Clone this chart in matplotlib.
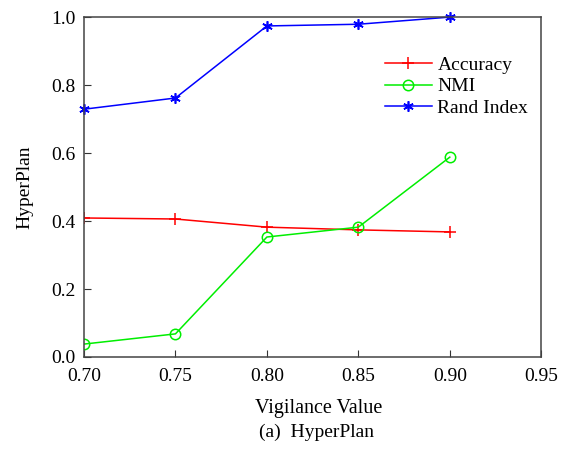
import matplotlib.pyplot as plt

plt.rcParams['font.family'] = ['Liberation Serif', 'DejaVu Serif']
plt.rcParams['mathtext.fontset'] = 'stix'

vigilance = [0.70, 0.75, 0.80, 0.85, 0.90]
accuracy = [0.409, 0.406, 0.382, 0.374, 0.368]
nmi = [0.038, 0.068, 0.353, 0.382, 0.588]
rand_index = [0.729, 0.762, 0.974, 0.979, 1.0]

fig = plt.figure(figsize=(5.73, 4.55), dpi=100)
ax = fig.add_axes([0.1466, 0.2154, 0.798, 0.747])

ax.plot(vigilance, accuracy, color='red', marker='+', markersize=8.5, lw=1.1,
        markeredgewidth=1.1, label='Accuracy')
ax.plot(vigilance, nmi, color='#00ee00', marker='o', markersize=7.5, lw=1.1,
        markerfacecolor='none', markeredgewidth=1.1, label='NMI')
ax.plot(vigilance, rand_index, color='blue', marker=(6, 2, 0), markersize=7.5, lw=1.1,
        markeredgewidth=1.2, label='Rand Index', clip_on=False)

ax.set_xlim(0.70, 0.95)
ax.set_ylim(0.0, 1.0)
ax.set_xticks([0.70, 0.75, 0.80, 0.85, 0.90, 0.95])
ax.set_xticklabels(['0.70', '0.75', '0.80', '0.85', '0.90', '0.95'])
ax.set_yticks([0.0, 0.2, 0.4, 0.6, 0.8, 1.0])
ax.set_yticklabels(['0.0', '0.2', '0.4', '0.6', '0.8', '1.0'])
ax.tick_params(direction='in', length=5, labelsize=14, pad=6, color='#333333')
ax.tick_params(axis='x', pad=8)
for s in ax.spines.values():
    s.set_color('#444444')
    s.set_linewidth(1.1)

ax.set_xlabel('Vigilance Value', fontsize=14.5, labelpad=10, x=0.513)
ax.set_ylabel('HyperPlan', fontsize=14, labelpad=13)

ax.legend(loc='upper left', bbox_to_anchor=(0.658, 0.885), frameon=False, fontsize=14,
          handlelength=2.4, borderpad=0, borderaxespad=0, labelspacing=0.2,
          handletextpad=0.3)

fig.text(0.553, 0.04, '(a)  HyperPlan', ha='center', fontsize=14)

fig.savefig('out.png', dpi=100)
